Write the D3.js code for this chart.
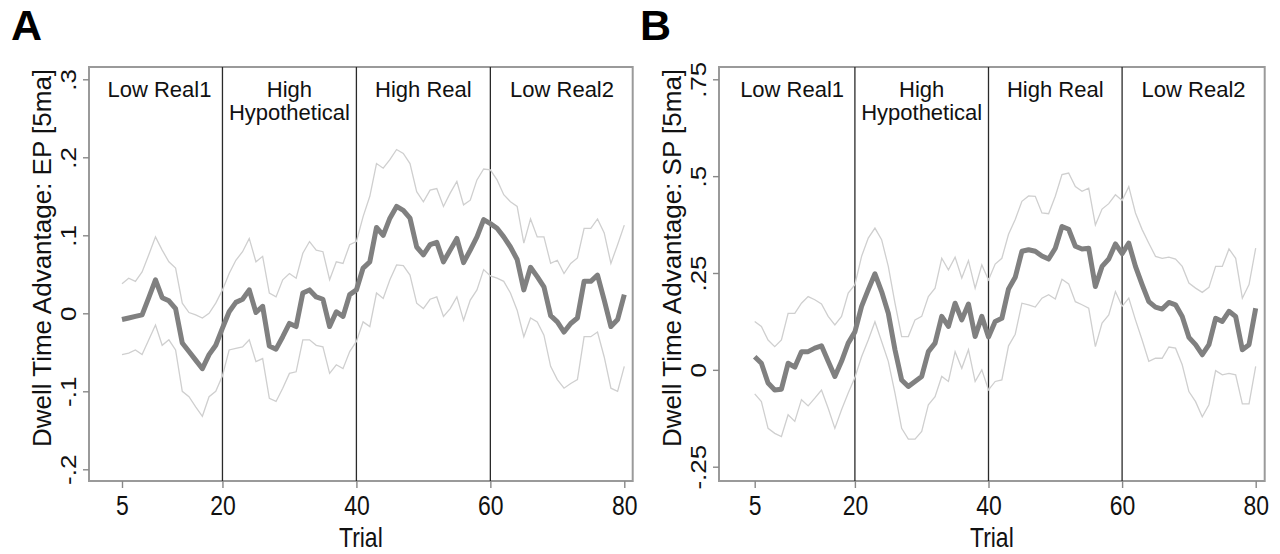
<!DOCTYPE html>
<html>
<head>
<meta charset="utf-8">
<script src="https://cdn.jsdelivr.net/npm/d3@7"></script>
<style>
  body { margin: 0; background: #fff; }
  svg { display: block; font-family: "Liberation Sans", Arial, Helvetica, sans-serif; }
</style>
</head>
<body>
<svg width="1280" height="554"></svg>
<script>
// trials 5..80 (5-trial moving average starts at trial 5)
var trials = d3.range(5, 81);

var phases = ["Low Real1", "High\nHypothetical", "High Real", "Low Real2"];
var phaseBreaks = [20, 40, 60];
var xTicks = [5, 20, 40, 60, 80];

// Panel A: EP
var epTicks = [-0.2, -0.1, 0, 0.1, 0.2, 0.3];
var epTickLabels = ["-.2", "-.1", "0", ".1", ".2", ".3"];
var epMean = [-0.008, -0.006, -0.004, -0.002, 0.02, 0.043, 0.02, 0.016, 0.006, -0.038,
  -0.049, -0.06, -0.071, -0.053, -0.041, -0.019, 0.002, 0.014, 0.018, 0.03,
  0.001, 0.009, -0.042, -0.046, -0.03, -0.013, -0.017, 0.026, 0.03, 0.021,
  0.018, -0.017, 0.002, -0.004, 0.024, 0.03, 0.058, 0.066, 0.11, 0.1,
  0.122, 0.137, 0.132, 0.122, 0.085, 0.075, 0.088, 0.091, 0.066, 0.081,
  0.096, 0.065, 0.081, 0.098, 0.12, 0.115, 0.109, 0.098, 0.085, 0.069,
  0.03, 0.059, 0.047, 0.034, -0.003, -0.011, -0.024, -0.013, -0.006, 0.041,
  0.041, 0.049, 0.017, -0.017, -0.008, 0.024];
var epUpper = [0.038, 0.045, 0.041, 0.053, 0.075, 0.098, 0.081, 0.066, 0.058, 0.013,
  0.001, -0.002, -0.006, 0, 0.013, 0.03, 0.051, 0.068, 0.079, 0.096,
  0.066, 0.073, 0.026, 0.021, 0.043, 0.051, 0.045, 0.077, 0.092, 0.081,
  0.079, 0.043, 0.066, 0.064, 0.088, 0.092, 0.124, 0.15, 0.192, 0.186,
  0.197, 0.21, 0.205, 0.192, 0.156, 0.143, 0.158, 0.16, 0.137, 0.154,
  0.169, 0.139, 0.145, 0.171, 0.185, 0.184, 0.171, 0.152, 0.143, 0.137,
  0.09, 0.121, 0.098, 0.098, 0.064, 0.068, 0.051, 0.064, 0.071, 0.109,
  0.109, 0.121, 0.103, 0.064, 0.088, 0.113];
var epLower = [-0.053, -0.051, -0.047, -0.053, -0.034, -0.015, -0.041, -0.034, -0.047, -0.1,
  -0.107, -0.12, -0.132, -0.107, -0.1, -0.08, -0.047, -0.045, -0.043, -0.034,
  -0.062, -0.058, -0.109, -0.113, -0.096, -0.077, -0.075, -0.034, -0.034, -0.041,
  -0.043, -0.077, -0.066, -0.071, -0.049, -0.036, -0.011, -0.017, 0.026, 0.019,
  0.043, 0.062, 0.061, 0.049, 0.013, 0.006, 0.018, 0.021, -0.004, 0.006,
  0.021, -0.009, 0.017, 0.03, 0.056, 0.048, 0.045, 0.041, 0.026, 0.004,
  -0.03, -0.006, -0.011, -0.028, -0.068, -0.085, -0.096, -0.09, -0.085, -0.03,
  -0.03, -0.024, -0.056, -0.096, -0.1, -0.068];

// Panel B: SP
var spTicks = [-0.25, 0, 0.25, 0.5, 0.75];
var spTickLabels = ["-.25", "0", ".25", ".5", ".75"];
var spMean = [0.034, 0.017, -0.034, -0.052, -0.05, 0.017, 0.007, 0.047, 0.047, 0.056,
  0.062, 0.022, -0.017, 0.022, 0.069, 0.098, 0.164, 0.207, 0.248, 0.202,
  0.146, 0.052, -0.026, -0.043, -0.03, -0.017, 0.047, 0.069, 0.138, 0.112,
  0.172, 0.129, 0.17, 0.086, 0.138, 0.085, 0.125, 0.133, 0.209, 0.239,
  0.306, 0.31, 0.306, 0.294, 0.286, 0.314, 0.37, 0.363, 0.319, 0.312,
  0.314, 0.215, 0.267, 0.286, 0.325, 0.3, 0.327, 0.267, 0.22, 0.176,
  0.162, 0.157, 0.174, 0.168, 0.138, 0.084, 0.065, 0.039, 0.065, 0.133,
  0.125, 0.151, 0.138, 0.052, 0.065, 0.159];
var spUpper = [0.125, 0.112, 0.077, 0.06, 0.077, 0.146, 0.146, 0.172, 0.189, 0.181,
  0.17, 0.138, 0.116, 0.138, 0.198, 0.22, 0.293, 0.34, 0.366, 0.336,
  0.267, 0.172, 0.086, 0.086, 0.129, 0.138, 0.189, 0.211, 0.288, 0.258,
  0.291, 0.237, 0.282, 0.211, 0.271, 0.232, 0.273, 0.288, 0.35, 0.388,
  0.435, 0.449, 0.448, 0.405, 0.403, 0.448, 0.504, 0.508, 0.473, 0.461,
  0.469, 0.374, 0.415, 0.429, 0.452, 0.437, 0.473, 0.405, 0.362, 0.327,
  0.293, 0.288, 0.291, 0.286, 0.267, 0.224, 0.211, 0.2, 0.213, 0.267,
  0.267, 0.312, 0.288, 0.185, 0.22, 0.314];
var spLower = [-0.062, -0.082, -0.151, -0.164, -0.172, -0.116, -0.133, -0.077, -0.093, -0.073,
  -0.052, -0.099, -0.151, -0.103, -0.06, -0.02, 0.034, 0.077, 0.124, 0.073,
  0.022, -0.06, -0.151, -0.179, -0.179, -0.159, -0.09, -0.069, -0.017, -0.03,
  0.047, 0.004, 0.052, -0.03, 0, -0.052, -0.03, -0.026, 0.062, 0.092,
  0.172, 0.168, 0.162, 0.185, 0.194, 0.183, 0.234, 0.222, 0.176, 0.168,
  0.159, 0.06, 0.121, 0.142, 0.202, 0.164, 0.185, 0.129, 0.077, 0.022,
  0.03, 0.03, 0.059, 0.056, 0.013, -0.056, -0.082, -0.121, -0.09, -0.002,
  -0.013, -0.009, -0.013, -0.088, -0.088, 0.009];

var svg = d3.select("svg");

var panels = [
  {
    letter: "A", letterX: 11,
    frame: {left: 89, right: 632.7, top: 67, bottom: 481},
    xRange: [122, 624.3],
    yDomain: [-0.2, 0.3], yRange: [469.3, 79.3],
    ticks: epTicks, tickLabels: epTickLabels,
    title: "Dwell Time Advantage: EP [5ma]",
    mean: epMean, upper: epUpper, lower: epLower
  },
  {
    letter: "B", letterX: 640,
    frame: {left: 719, right: 1264.7, top: 67, bottom: 481},
    xRange: [754.7, 1255.7],
    yDomain: [-0.25, 0.75], yRange: [466.7, 79.3],
    ticks: spTicks, tickLabels: spTickLabels,
    title: "Dwell Time Advantage: SP [5ma]",
    mean: spMean, upper: spUpper, lower: spLower
  }
];

// where the phase labels sit, in trial units
var phaseLabelPos = [10.6, 30, 50, 70.7];

panels.forEach(drawPanel);

function drawPanel(p)
{
    var f = p.frame;
    var x = d3.scaleLinear().domain([5, 80]).range(p.xRange);
    var y = d3.scaleLinear().domain(p.yDomain).range(p.yRange);
    var g = svg.append("g");

    g.append("text")
        .attr("x", p.letterX)
        .attr("y", 40)
        .attr("font-size", 43)
        .attr("font-weight", "bold")
        .text(p.letter);

    // frame
    g.append("rect")
        .attr("x", f.left).attr("y", f.top)
        .attr("width", f.right - f.left).attr("height", f.bottom - f.top)
        .attr("fill", "none")
        .attr("stroke", "#9a9a9a")
        .attr("stroke-width", 2);

    // x axis ticks
    var xAxis = d3.axisBottom(x).tickValues(xTicks).tickSize(7).tickFormat(d3.format("d"));
    var xg = g.append("g").attr("transform", "translate(0," + f.bottom + ")").call(xAxis);
    xg.select(".domain").remove();
    xg.selectAll(".tick line").attr("stroke", "#888").attr("stroke-width", 1.4);
    xg.selectAll(".tick text")
        .attr("font-size", 28)
        .attr("fill", "#111")
        .attr("font-family", "'Liberation Sans', Arial, sans-serif")
        .attr("dy", null).attr("y", null)
        .attr("transform", "translate(0,34) scale(0.82,1)");

    g.append("text")
        .attr("transform", "translate(" + ((f.left + f.right) / 2) + ",547) scale(0.82,1)")
        .attr("text-anchor", "middle")
        .attr("font-size", 28)
        .attr("fill", "#111")
        .text("Trial");

    // y axis ticks, labels rotated like Stata
    var yAxis = d3.axisLeft(y).tickValues(p.ticks).tickSize(6).tickFormat(function(d, i) { return p.tickLabels[i]; });
    var yg = g.append("g").attr("transform", "translate(" + f.left + ",0)").call(yAxis);
    yg.select(".domain").remove();
    yg.selectAll(".tick line").attr("stroke", "#888").attr("stroke-width", 1.4);
    yg.selectAll(".tick text")
        .attr("x", null).attr("dy", null)
        .attr("text-anchor", "middle")
        .attr("font-size", 26)
        .attr("fill", "#111")
        .attr("font-family", "'Liberation Sans', Arial, sans-serif")
        .attr("transform", "translate(-13,0) rotate(-90) scale(1,0.85)");

    g.append("text")
        .attr("transform", "translate(" + (f.left - 38) + ",258) rotate(-90)")
        .attr("text-anchor", "middle")
        .attr("font-size", 26)
        .attr("fill", "#111")
        .text(p.title);

    // phase boundaries
    g.selectAll(".brk")
        .data(phaseBreaks)
        .enter().append("line")
        .attr("x1", function(d) { return x(d); })
        .attr("x2", function(d) { return x(d); })
        .attr("y1", f.top)
        .attr("y2", f.bottom)
        .attr("stroke", "#2a2a2a")
        .attr("stroke-width", 1.3);

    // phase labels
    phases.forEach(function(name, i)
    {
        var t = g.append("text")
            .attr("text-anchor", "middle")
            .attr("font-size", 22)
            .attr("fill", "#111");
        name.split("\n").forEach(function(s, j)
        {
            t.append("tspan")
                .attr("x", x(phaseLabelPos[i]))
                .attr("y", 97 + j * 23)
                .text(s);
        });
    });

    var line = d3.line()
        .x(function(d, i) { return x(trials[i]); })
        .y(function(d) { return y(d); });

    g.append("path").datum(p.upper)
        .attr("d", line).attr("fill", "none")
        .attr("stroke", "#cfcfcf").attr("stroke-width", 1.3);
    g.append("path").datum(p.lower)
        .attr("d", line).attr("fill", "none")
        .attr("stroke", "#cfcfcf").attr("stroke-width", 1.3);
    g.append("path").datum(p.mean)
        .attr("d", line).attr("fill", "none")
        .attr("stroke", "#808080").attr("stroke-width", 5)
        .attr("stroke-linejoin", "round");
}
</script>
</body>
</html>
